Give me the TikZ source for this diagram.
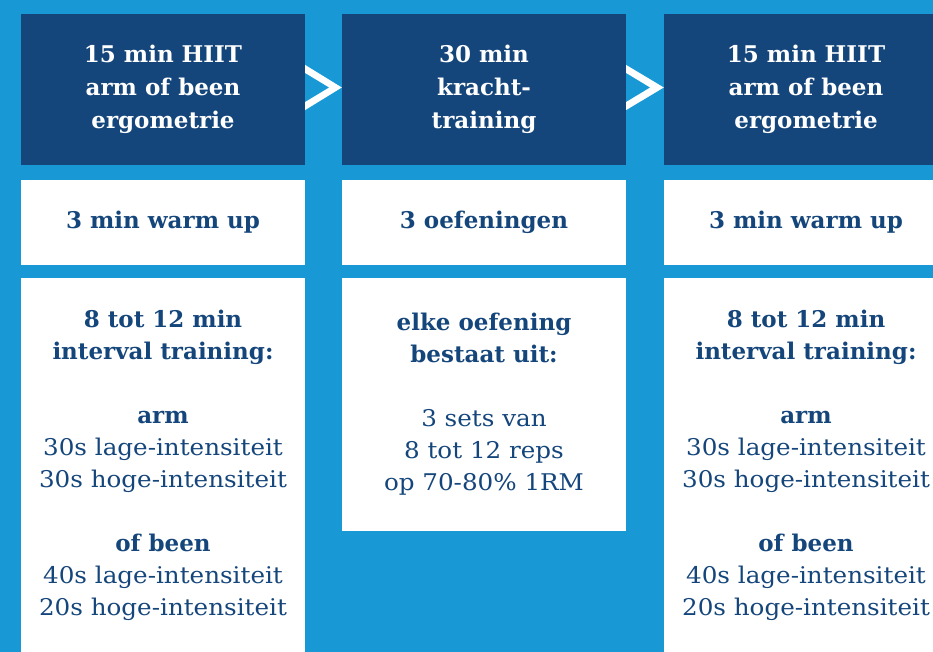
\documentclass[tikz,border=0pt]{standalone}
\usepackage{fontspec}
\setmainfont{DejaVu Serif}[FakeStretch=1.07]
\newfontfamily\heavyface{DejaVu Serif Bold}
\usetikzlibrary{calc}
\definecolor{skyblue}{HTML}{1899D6}
\definecolor{navy}{HTML}{15467B}
\newcommand{\hdrfont}{\fontsize{23}{33}\selectfont\heavyface}
\newcommand{\bodyfont}{\fontsize{23}{32}\selectfont}
\newcommand{\hv}[1]{{\heavyface #1}}
\begin{document}
\begin{tikzpicture}[x=1pt,y=-1pt,
  hdr/.style={fill=navy,text=white,minimum width=284pt,minimum height=151pt,
    inner sep=0pt,align=center,font=\hdrfont},
  wbox/.style={fill=white,text=navy,minimum width=284pt,inner sep=0pt,
    align=center,font=\bodyfont},
  chevron/.style={fill=white}]
\clip (0,0) rectangle (933,652);
\fill[skyblue] (0,0) rectangle (933,652);

% column headers
\node[hdr] (h1) at (163,89.5) {15 min HIIT\\arm of been\\ergometrie};
\node[hdr] (h2) at (484,89.5) {30 min\\kracht-\\training};
\node[hdr] (h3) at (806,89.5) {15 min HIIT\\arm of been\\ergometrie};

% short boxes
\node[wbox,minimum height=85pt] (w1) at (163,222.5) {\hv{3 min warm up}};
\node[wbox,minimum height=85pt] (w2) at (484,222.5) {\hv{3 oefeningen}};
\node[wbox,minimum height=85pt] (w3) at (806,222.5) {\hv{3 min warm up}};

% detail boxes
\node[wbox,minimum height=374pt] (d1) at (163,465) {\hv{8 tot 12 min}\\\hv{interval training:}\\[32pt]
  \hv{arm}\\30s lage-intensiteit\\30s hoge-intensiteit\\[32pt]
  \hv{of been}\\40s lage-intensiteit\\20s hoge-intensiteit};
\node[wbox,minimum height=253pt] (d2) at (484,404.5) {\hv{elke oefening}\\\hv{bestaat uit:}\\[32pt]
  3 sets van\\8 tot 12 reps\\op 70-80\% 1RM};
\node[wbox,minimum height=374pt] (d3) at (806,465) {\hv{8 tot 12 min}\\\hv{interval training:}\\[32pt]
  \hv{arm}\\30s lage-intensiteit\\30s hoge-intensiteit\\[32pt]
  \hv{of been}\\40s lage-intensiteit\\20s hoge-intensiteit};

% chevrons between the headers
\foreach \a/\b in {h1/h2,h2/h3}{
  \fill[chevron] ($(\a.east)+(0,-24.5)$) -- ($(\b.west)+(0,-2)$) -- ($(\a.east)+(0,20.5)$)
    -- ($(\a.east)+(0,12.5)$) -- ($(\a.east)+(24,-2)$) -- ($(\a.east)+(0,-16.5)$) -- cycle;
}
\end{tikzpicture}
\end{document}
